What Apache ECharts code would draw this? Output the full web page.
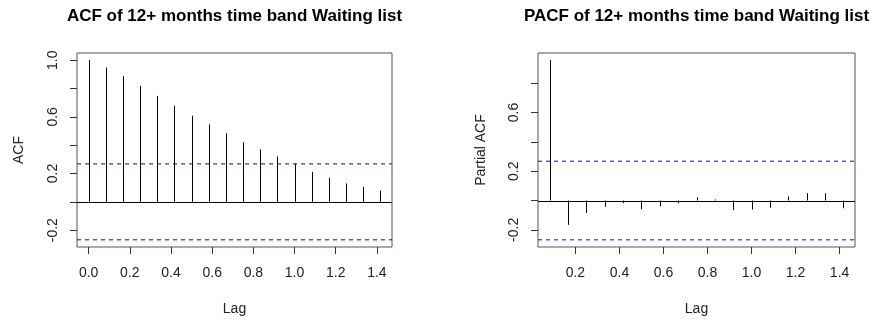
<!DOCTYPE html>
<html><head><meta charset="utf-8">
<script src="https://cdn.jsdelivr.net/npm/echarts@6/dist/echarts.min.js"></script>
<style>html,body{margin:0;padding:0;background:#fff}#c{width:874px;height:324px}</style>
</head><body><div id="c"></div>
<script>
// Lags in months (monthly series, frequency 12)
const acfLagMonths = [0,1,2,3,4,5,6,7,8,9,10,11,12,13,14,15,16,17];
const acfValues = [1.000,0.948,0.887,0.818,0.748,0.679,0.608,0.547,0.483,0.420,0.370,0.321,0.269,0.212,0.170,0.130,0.106,0.080];
const pacfLagMonths = [1,2,3,4,5,6,7,8,9,10,11,12,13,14,15,16,17];
const pacfValues = [0.957,-0.166,-0.085,-0.043,-0.018,-0.059,-0.039,-0.019,0.021,0.007,-0.066,-0.061,-0.049,0.028,0.050,0.050,-0.053];
const confLimit = 0.268;
const confLevels = [confLimit, -confLimit];
const zeroLevel = [0];
const acfXTicks = [0,0.2,0.4,0.6,0.8,1.0,1.2,1.4];
const pacfXTicks = [0.2,0.4,0.6,0.8,1.0,1.2,1.4];
const acfYTicks = [-0.2,0,0.2,0.4,0.6,0.8,1.0];
const acfYLabels = [-0.2,0.2,0.6,1.0];
const pacfYTicks = [-0.2,0,0.2,0.4,0.6,0.8];
const pacfYLabels = [-0.2,0.2,0.6];
const titles = ['ACF of 12+ months time band Waiting list','PACF of 12+ months time band Waiting list'];
const yNames = ['ACF','Partial ACF'];
const xName = 'Lag';

const FONT = '"Liberation Sans", Arial, sans-serif';
function ext(a,b){const d=(b-a)*0.04;return [a-d,b+d];}
const acfData = acfLagMonths.map((m,i)=>[m/12, acfValues[i]]);
const pacfData = pacfLagMonths.map((m,i)=>[m/12, pacfValues[i]]);
const acfX = ext(acfData[0][0], acfData[acfData.length-1][0]);
const pacfX = ext(pacfData[0][0], pacfData[pacfData.length-1][0]);
const acfY = ext(Math.min(-confLimit, ...acfValues), Math.max(confLimit, ...acfValues));
const pacfY = ext(Math.min(-confLimit, ...pacfValues), Math.max(confLimit, ...pacfValues));

const grids = [
  {left:77, top:53, width:315, height:194},
  {left:538, top:53, width:317, height:194}
];
function xAxis(idx, r, ticks){
  return {type:'value', gridIndex:idx, min:r[0], max:r[1],
    name:xName, nameLocation:'middle', nameGap:55,
    nameTextStyle:{fontFamily:FONT, fontSize:14, color:'#222'},
    axisLine:{show:false, onZero:false}, splitLine:{show:false},
    axisTick:{show:true, length:7, lineStyle:{color:'#333'}, customValues:ticks},
    axisLabel:{show:true, margin:19, fontFamily:FONT, fontSize:14, color:'#222',
      customValues:ticks, formatter:v=>v.toFixed(1)}};
}
function yAxis(idx, r, ticks, labels, name, gap){
  return {type:'value', gridIndex:idx, min:r[0], max:r[1],
    name:name, nameLocation:'middle', nameGap:gap,
    nameTextStyle:{fontFamily:FONT, fontSize:14, color:'#222'},
    axisLine:{show:false, onZero:false}, splitLine:{show:false},
    axisTick:{show:true, length:7, lineStyle:{color:'#333'}, customValues:ticks},
    axisLabel:{show:true, rotate:90, margin:17, fontFamily:FONT, fontSize:14, color:'#222',
      customValues:labels, formatter:v=>v.toFixed(1)}};
}
function spikes(params, api){
  const x = api.value(0), y = api.value(1);
  const p0 = api.coord([x,0]), p1 = api.coord([x,y]);
  const px = Math.round(p0[0]) + 0.5;
  return {type:'line', shape:{x1:px,y1:p0[1],x2:px,y2:p1[1]}, style:{stroke:'#000', lineWidth:1}};
}
function hlines(xr, color, dash, snap){
  return function(params, api){
    const lvl = api.value(0);
    const cs = params.coordSys;
    let py = api.coord([xr[0], lvl])[1];
    if (snap) py = Math.round(py) + 0.5;
    const style = {stroke:color, lineWidth:1};
    if (dash) style.lineDash = dash;
    return {type:'line', shape:{x1:cs.x, y1:py, x2:cs.x+cs.width, y2:py}, style:style};
  };
}
const chart = echarts.init(document.getElementById('c'), null, {renderer:'canvas'});
chart.setOption({
  animation:false,
  backgroundColor:'#fff',
  title: titles.map((t,i)=>({text:t, left:grids[i].left+grids[i].width/2, top:8, padding:0, textAlign:'center',
    textStyle:{fontFamily:FONT, fontSize:17, fontWeight:'bold', color:'#000'}})),
  grid: grids.map(g=>Object.assign({show:true, borderColor:'#555', borderWidth:1, backgroundColor:'transparent'}, g)),
  xAxis:[xAxis(0, acfX, acfXTicks), xAxis(1, pacfX, pacfXTicks)],
  yAxis:[yAxis(0, acfY, acfYTicks, acfYLabels, yNames[0], 51), yAxis(1, pacfY, pacfYTicks, pacfYLabels, yNames[1], 50)],
  series:[
    {type:'custom', xAxisIndex:0, yAxisIndex:0, data:confLevels.map(v=>[v]), encode:{y:0}, renderItem:hlines(acfX,'#0000ff',[4,4],false), silent:true, z:2},
    {type:'custom', xAxisIndex:1, yAxisIndex:1, data:confLevels.map(v=>[v]), encode:{y:0}, renderItem:hlines(pacfX,'#0000ff',[4,4],false), silent:true, z:2},
    {type:'custom', xAxisIndex:0, yAxisIndex:0, data:acfData, renderItem:spikes, silent:true, z:3},
    {type:'custom', xAxisIndex:1, yAxisIndex:1, data:pacfData, renderItem:spikes, silent:true, z:3},
    {type:'custom', xAxisIndex:0, yAxisIndex:0, data:zeroLevel.map(v=>[v]), encode:{y:0}, renderItem:hlines(acfX,'#000',null,true), silent:true, z:3},
    {type:'custom', xAxisIndex:1, yAxisIndex:1, data:zeroLevel.map(v=>[v]), encode:{y:0}, renderItem:hlines(pacfX,'#000',null,true), silent:true, z:3}
  ]
});
</script></body></html>
